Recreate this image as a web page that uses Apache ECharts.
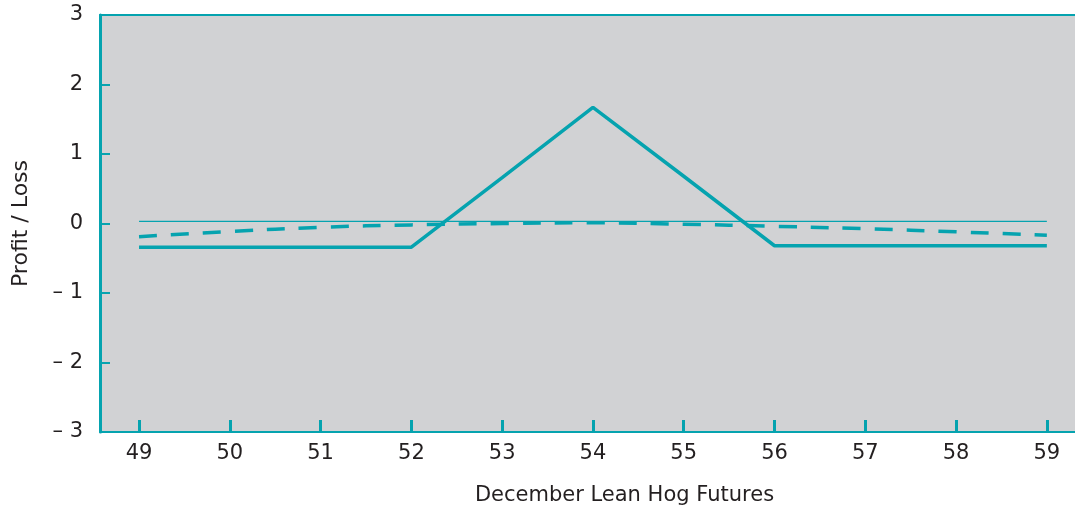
<!DOCTYPE html>
<html>
<head>
<meta charset="utf-8">
<script src="https://cdn.jsdelivr.net/npm/echarts@6/dist/echarts.min.js"></script>
<style>
  html, body { margin: 0; padding: 0; background: #fff; }
  #chart { width: 1075px; height: 510px; }
</style>
</head>
<body>
<div id="chart"></div>
<script>
// data
const futuresPrices = [49, 50, 51, 52, 53, 54, 55, 56, 57, 58, 59];
const expirationPL = [-0.34, -0.34, -0.34, -0.34, 0.66, 1.67, 0.68, -0.32, -0.32, -0.32, -0.32];
const currentPL = [-0.19, -0.115, -0.055, -0.02, 0.0, 0.01, -0.01, -0.04, -0.075, -0.12, -0.17];
const zeroLine = [[49, 0.03], [59, 0.03]];
const yTicks = [-3, -2, -1, 0, 1, 2, 3];

const teal = '#05a3af';
const ink = '#231f20';
const font = "'DejaVu Sans', sans-serif";

const chart = echarts.init(document.getElementById('chart'));

function pairs(xs, ys) {
  return xs.map((x, i) => [x, ys[i]]);
}

const option = {
  animation: false,
  grid: {
    left: 100, right: 0, top: 15, bottom: 78,
    outerBoundsMode: 'none',
    containLabel: false,
    show: true, backgroundColor: '#d1d2d4', borderWidth: 0
  },
  xAxis: [{
    type: 'value',
    min: 48.57, max: 59.31,
    position: 'bottom',
    name: 'December Lean Hog Futures',
    nameLocation: 'middle',
    nameGap: 53,
    nameTextStyle: { fontFamily: font, fontSize: 21, color: ink, padding: [0, 0, 0, 74] },
    axisLine: { show: true, onZero: false, lineStyle: { color: teal, width: 2 } },
    axisTick: { show: true, inside: true, length: 12, lineStyle: { color: teal, width: 3 }, customValues: futuresPrices },
    axisLabel: { fontFamily: font, fontSize: 21, color: ink, margin: 11, customValues: futuresPrices },
    splitLine: { show: false }
  }, {
    type: 'value',
    min: 48.57, max: 59.31,
    position: 'top',
    axisLine: { show: true, onZero: false, lineStyle: { color: teal, width: 2 } },
    axisTick: { show: false },
    axisLabel: { show: false },
    splitLine: { show: false }
  }],
  yAxis: {
    type: 'value',
    min: -3, max: 3, interval: 1,
    name: 'Profit / Loss',
    nameLocation: 'middle',
    nameGap: 68,
    nameTextStyle: { fontFamily: font, fontSize: 22, color: ink },
    axisLine: { show: true, onZero: false, lineStyle: { color: teal, width: 3 } },
    axisTick: { show: true, inside: true, length: 10, lineStyle: { color: teal, width: 2 }, customValues: yTicks.slice(1, -1) },
    axisLabel: {
      fontFamily: font, fontSize: 21, color: ink, margin: 17,
      padding: [0, 0, 5, 0],
      formatter: v => v < 0 ? '\u2013 ' + Math.abs(v) : String(v)
    },
    splitLine: { show: false }
  },
  series: [{
    type: 'line',
    data: zeroLine,
    symbol: 'none',
    lineStyle: { color: teal, width: 1.3 },
    z: 1
  }, {
    type: 'line',
    data: pairs(futuresPrices, currentPL),
    symbol: 'none',
    smooth: true,
    lineStyle: { color: teal, width: 3.5, type: [18, 14] },
    z: 2
  }, {
    type: 'line',
    data: pairs(futuresPrices, expirationPL),
    symbol: 'none',
    lineStyle: { color: teal, width: 3.5 },
    z: 3
  }]
};

chart.setOption(option);
</script>
</body>
</html>
